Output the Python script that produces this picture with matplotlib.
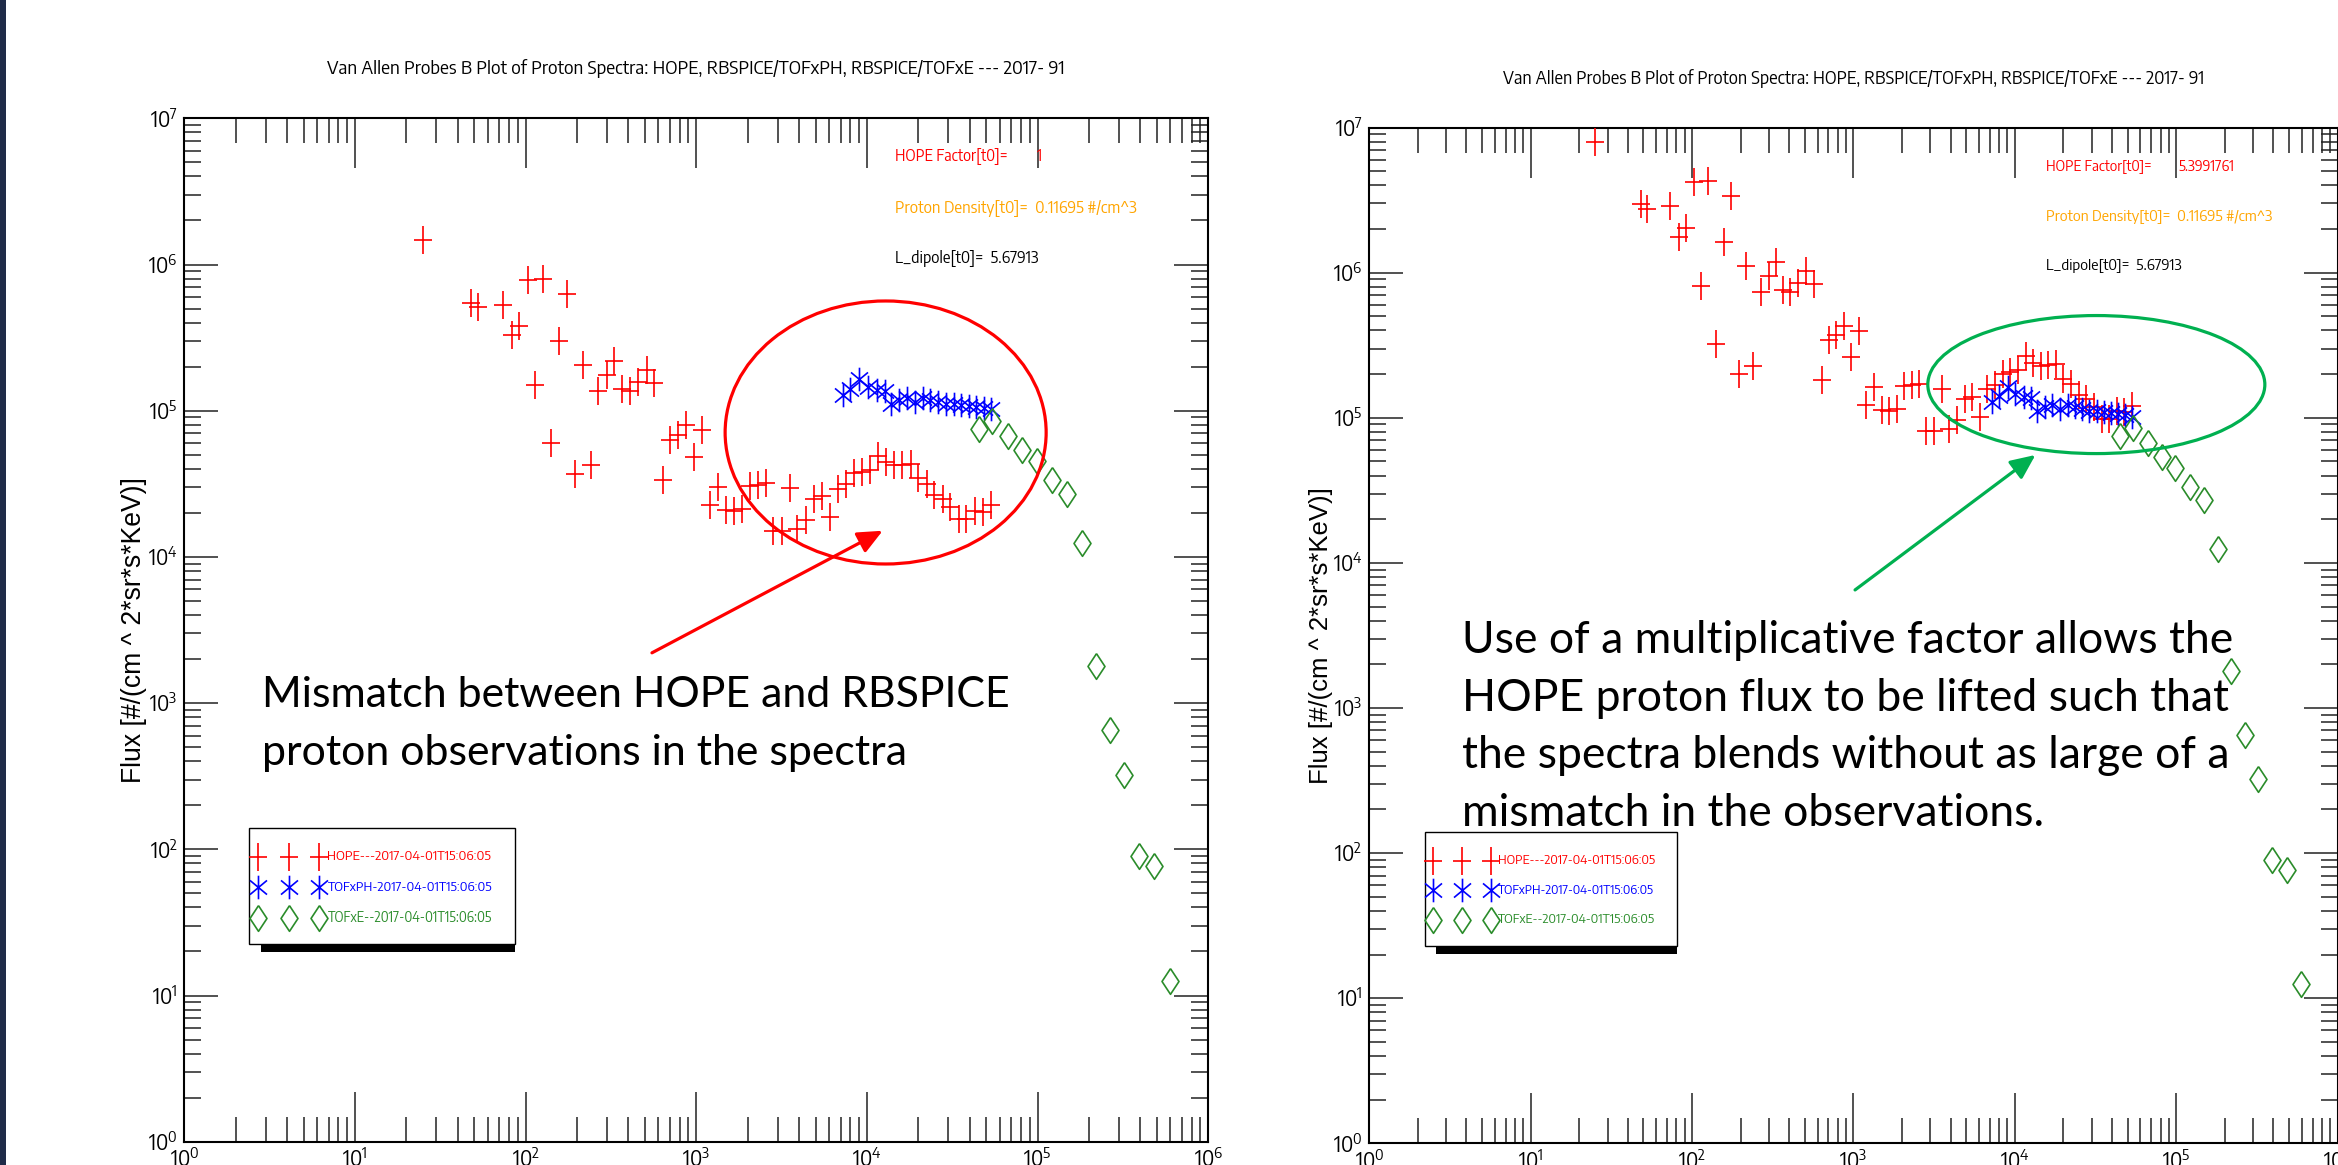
import matplotlib
matplotlib.use("Agg")
import matplotlib.pyplot as plt
import matplotlib.ticker as ticker
from matplotlib import font_manager
from matplotlib.font_manager import FontProperties
from matplotlib.patches import Ellipse, Rectangle, FancyArrowPatch
from matplotlib.path import Path
from matplotlib.textpath import TextToPath

_TTP = TextToPath()
_SAMPLE = "HOPE Factor[t0]= 2017"


def _width_ratio(prop):
    w, _, _ = _TTP.get_text_width_height_descent(_SAMPLE, prop, ismath=False)
    _, hh, _ = _TTP.get_text_width_height_descent("H", prop, ismath=False)
    return w / max(hh, 1e-6)


def _pick_narrow():
    """A regular sans face about as narrow as Arial Narrow (the IDL plot font)."""
    base = FontProperties(family="Liberation Sans")
    target = 0.84 * _width_ratio(base)
    best, best_err = base, None
    skip = ("mono", "cjk", "serif", "stix", "math", "symbol", "emoji", "display")
    for f in font_manager.fontManager.ttflist:
        tag = (f.name + " " + f.fname).lower()
        if any(s in tag for s in skip) or not any(k in tag for k in ("sans", "roboto", "lato", "inter")):
            continue
        if f.style != "normal" or f.weight not in (400, "normal", "regular", "book"):
            continue
        prop = FontProperties(fname=f.fname)
        try:
            err = abs(_width_ratio(prop) - target)
        except Exception:
            continue
        if best_err is None or err < best_err:
            best, best_err = prop, err
    return best


def size_for_height(prop, sample, px):
    """Font size (pt) that gives `sample` an ink height of px pixels at 100 dpi."""
    p = prop.copy()
    p.set_size(100)
    _, h, _ = _TTP.get_text_width_height_descent(sample, p, ismath=False)
    return (px * 72 / 100) * 100 / max(h, 1e-6)


NARROW = _pick_narrow()
_installed = {f.name for f in font_manager.fontManager.ttflist}
SLIDE_FONT = "Lato" if "Lato" in _installed else "DejaVu Sans"
TICK_SIZE = size_for_height(NARROW, "10", 16)

# ---------------------------------------------------------------------------
# Data (energy in eV, flux in #/(cm^2*sr*s*keV))
# ---------------------------------------------------------------------------
HOPE_E = [25.1, 48.1, 52.7, 73.3, 83.0, 91.2, 103, 126, 113, 157, 175, 141, 195,
          217, 240, 267, 299, 331, 367, 407, 456, 512, 566, 635, 705, 780, 875,
          971, 1086, 1205, 1349, 1496, 1660, 1858, 2061, 2307, 2559, 2831, 3162,
          3524, 3908, 4375, 4909, 5433, 6095, 6761, 7568, 8395, 9397, 10420,
          11670, 12940, 14490, 16070, 18030, 19950, 22390, 24830, 27800, 30830,
          34510, 38280, 42850, 47530, 53210]
HOPE_FLUX = [1.48e6, 5.48e5, 5.09e5, 5.31e5, 3.27e5, 3.79e5, 7.85e5, 7.96e5,
             1.50e5, 3.00e5, 6.25e5, 6.01e4, 3.69e4, 2.05e5, 4.24e4, 1.37e5,
             1.75e5, 2.18e5, 1.41e5, 1.36e5, 1.57e5, 1.89e5, 1.54e5, 3.37e4,
             6.35e4, 6.87e4, 7.93e4, 4.84e4, 7.38e4, 2.28e4, 3.03e4, 2.08e4,
             2.05e4, 2.12e4, 3.05e4, 3.12e4, 3.18e4, 1.50e4, 1.50e4, 2.94e4,
             1.54e4, 1.80e4, 2.48e4, 2.59e4, 1.87e4, 2.92e4, 3.14e4, 3.72e4,
             3.81e4, 3.93e4, 4.93e4, 4.45e4, 4.24e4, 4.27e4, 4.35e4, 3.44e4,
             3.16e4, 2.67e4, 2.49e4, 2.19e4, 1.82e4, 1.82e4, 2.05e4, 2.04e4,
             2.25e4]

TOFXPH_E = [7194, 7962, 9016, 10090, 11430, 12680, 13770, 15420, 17100, 19140,
            21230, 23550, 26120, 28970, 32140, 35650, 39450, 43750, 48530, 53210]
TOFXPH_FLUX = [1.29e5, 1.41e5, 1.64e5, 1.46e5, 1.39e5, 1.37e5, 1.11e5, 1.18e5,
               1.22e5, 1.15e5, 1.22e5, 1.18e5, 1.15e5, 1.11e5, 1.11e5, 1.09e5,
               1.08e5, 1.06e5, 1.05e5, 1.02e5]

TOFXE_E = [45190, 54330, 66830, 81280, 99080, 121600, 147900, 182000, 218300,
           265500, 322800, 392600, 483100, 595700]
TOFXE_FLUX = [7.53e4, 8.49e4, 6.68e4, 5.41e4, 4.52e4, 3.34e4, 2.71e4, 1.24e4,
              1.80e3, 650, 324, 89.7, 76.6, 12.5]

HOPE_FACTORS = [1.0, 5.3991761]
FACTOR_LABELS = ["1", "5.3991761"]
PROTON_DENSITY = "0.11695"
L_DIPOLE = "5.67913"
STAMP = "2017-04-01T15:06:05"
SERIES_LABELS = ["HOPE---" + STAMP, "TOFxPH-" + STAMP, "TOFxE--" + STAMP]

TITLE = ("Van Allen Probes B Plot of Proton Spectra: HOPE, RBSPICE/TOFxPH, "
         "RBSPICE/TOFxE --- 2017- 91")
YLABEL = "Flux [#/(cm ^ 2*sr*s*KeV)]"

NOTES = [
    ["Mismatch between HOPE and RBSPICE",
     "proton observations in the spectra"],
    ["Use of a multiplicative factor allows the",
     "HOPE proton flux to be lifted such that",
     "the spectra blends without as large of a",
     "mismatch in the observations."],
]

# ---------------------------------------------------------------------------
# Styling
# ---------------------------------------------------------------------------
RED, BLUE, GREEN, ORANGE = "#ff0000", "#0000ff", "#2a8c2a", "#ffa500"
OFFICE_GREEN = "#00b050"

_M, _L = Path.MOVETO, Path.LINETO
PLUS = Path([(-0.33, 0), (0.33, 0), (0, -0.5), (0, 0.5)], [_M, _L, _M, _L])
STAR = Path([(0, -0.5), (0, 0.5), (-0.36, -0.3), (0.36, 0.3), (-0.36, 0.3), (0.36, -0.3)],
            [_M, _L, _M, _L, _M, _L])
DIAMOND = Path([(0, 0.5), (0.33, 0), (0, -0.5), (-0.33, 0), (0, 0.5)],
               [_M, _L, _L, _L, _L])

SERIES_STYLE = [
    dict(marker=PLUS, color=RED, markersize=19.5),
    dict(marker=STAR, color=BLUE, markersize=17),
    dict(marker=DIAMOND, color=GREEN, markersize=18.5),
]

# per-panel layout (figure / axes fractions) and target text widths in pixels
PANELS = [
    dict(rect=(0.07883, 0.0200, 0.43798, 0.87845),
         ellipse=((0.6849, 0.6930), 0.3135, 0.2570), ring=RED,
         arrow=((0.4567, 0.4777), (0.682, 0.597)),
         note_x=0.0763, note_y=[0.4248, 0.3684], note_w=748,
         leg_box=(0.0636, 0.1934, 0.3229, 0.3065),
         leg_mx=[0.0720, 0.1018, 0.1316], leg_tx=0.1398, leg_y=[0.2782, 0.2484, 0.2189],
         leg_w=164,
         info_x=0.694, val_x=0.833, info_y=[0.9622, 0.9120, 0.8632],
         info_w=[113, 243, 144],
         ylab_x=-0.0491, ylab_w=305, title_w=736),
    dict(rect=(0.58567, 0.01863, 0.41412, 0.87185),
         ellipse=((0.7509, 0.7470), 0.3481, 0.1359), ring=OFFICE_GREEN,
         arrow=((0.5017, 0.5448), (0.6880, 0.6777)),
         note_x=0.0954, note_y=[0.4829, 0.4260, 0.3691, 0.3121], note_w=767,
         leg_box=(0.0575, 0.1943, 0.3178, 0.3065),
         leg_mx=[0.0653, 0.0954, 0.1255], leg_tx=0.1333, leg_y=[0.2783, 0.2490, 0.2203],
         leg_w=157,
         info_x=0.6989, val_x=0.8354, info_y=[0.9612, 0.9124, 0.8638],
         info_w=[106, 228, 136],
         ylab_x=-0.0500, ylab_w=296, title_w=699),
]


def fit(fig, txt, target_px, vertical=False):
    """Scale a text's font size so that it spans target_px pixels."""
    bb = txt.get_window_extent(fig.canvas.get_renderer())
    cur = bb.height if vertical else bb.width
    txt.set_fontsize(txt.get_fontsize() * target_px / cur)
    return txt.get_fontsize()


def draw_panel(fig, lay, factor, factor_label, notes):
    ax = fig.add_axes(lay["rect"])
    ax.set_xscale("log")
    ax.set_yscale("log")
    ax.set_xlim(1, 1e6)
    ax.set_ylim(1, 1e7)

    hope = [f * factor for f in HOPE_FLUX]
    series = [(HOPE_E, hope), (TOFXPH_E, TOFXPH_FLUX), (TOFXE_E, TOFXE_FLUX)]
    for (xs, ys), st in zip(series, SERIES_STYLE):
        ax.plot(xs, ys, linestyle="none", marker=st["marker"], markersize=st["markersize"],
                markerfacecolor="none", markeredgecolor=st["color"], markeredgewidth=1.2,
                zorder=3)

    # IDL-like ticks: inward on all four sides
    for axis in (ax.xaxis, ax.yaxis):
        axis.set_major_locator(ticker.LogLocator(base=10, numticks=12))
        axis.set_minor_locator(ticker.LogLocator(base=10, subs=range(2, 10), numticks=12))
        axis.set_minor_formatter(ticker.NullFormatter())
    ax.tick_params(which="both", direction="in", top=True, right=True,
                   width=1.1, color="#222222", pad=5)
    ax.tick_params(axis="x", which="major", length=36)
    ax.tick_params(axis="x", which="minor", length=18)
    ax.tick_params(axis="y", which="major", length=24.5)
    ax.tick_params(axis="y", which="minor", length=12)
    for lab in ax.get_xticklabels() + ax.get_yticklabels():
        lab.set_fontproperties(NARROW)
        lab.set_fontsize(TICK_SIZE)
    for sp in ax.spines.values():
        sp.set_linewidth(1.5)

    t = ax.text(0.5, 1.0482, TITLE, transform=ax.transAxes, ha="center", va="center",
                fontproperties=NARROW, fontsize=13.5)
    fit(fig, t, lay["title_w"])
    t = ax.text(lay["ylab_x"], 0.5, YLABEL, transform=ax.transAxes, rotation=90,
                ha="center", va="center", fontsize=16.5, family="Liberation Sans")
    fit(fig, t, lay["ylab_w"], vertical=True)

    # info block top-right
    iy, iw = lay["info_y"], lay["info_w"]
    t = ax.text(lay["info_x"], iy[0], "HOPE Factor[t0]=", transform=ax.transAxes,
                color=RED, fontproperties=NARROW, fontsize=12.5, va="center")
    size = fit(fig, t, iw[0])
    ax.text(lay["val_x"], iy[0], factor_label, transform=ax.transAxes,
            color=RED, fontproperties=NARROW, fontsize=size, va="center")
    t = ax.text(lay["info_x"], iy[1], f"Proton Density[t0]=  {PROTON_DENSITY} #/cm^3",
                transform=ax.transAxes, color=ORANGE, fontproperties=NARROW,
                fontsize=12.5, va="center")
    fit(fig, t, iw[1])
    t = ax.text(lay["info_x"], iy[2], f"L_dipole[t0]=  {L_DIPOLE}",
                transform=ax.transAxes, color="black", fontproperties=NARROW,
                fontsize=12.5, va="center")
    fit(fig, t, iw[2])

    # legend box with drop shadow
    x0, y0, x1, y1 = lay["leg_box"]
    ax.add_patch(Rectangle((x0 + 0.0117, y0 - 0.0078), x1 - x0 - 0.0117, 0.0078,
                           transform=ax.transAxes, facecolor="black", edgecolor="none",
                           clip_on=False, zorder=4))
    ax.add_patch(Rectangle((x0, y0), x1 - x0, y1 - y0, transform=ax.transAxes,
                           facecolor="white", edgecolor="black", linewidth=1.0,
                           clip_on=False, zorder=5))
    for st, label, ly in zip(SERIES_STYLE, SERIES_LABELS, lay["leg_y"]):
        ax.plot(lay["leg_mx"], [ly] * 3, transform=ax.transAxes, linestyle="none",
                marker=st["marker"], markersize=st["markersize"], markerfacecolor="none",
                markeredgecolor=st["color"], markeredgewidth=1.2, clip_on=False, zorder=6)
        t = ax.text(lay["leg_tx"], ly, label, transform=ax.transAxes, color=st["color"],
                    fontproperties=NARROW, fontsize=10.3, va="center", ha="left", zorder=6)
        fit(fig, t, lay["leg_w"])

    # slide annotations: ring, arrow, note
    (cx, cy), ew, eh = lay["ellipse"]
    ax.add_patch(Ellipse((cx, cy), ew, eh, transform=ax.transAxes, fill=False,
                         edgecolor=lay["ring"], linewidth=2.3, clip_on=False, zorder=7))
    (ax0, ay0), (ax1, ay1) = lay["arrow"]
    ax.add_patch(FancyArrowPatch((ax0, ay0), (ax1, ay1), transform=ax.transAxes,
                                 arrowstyle="-|>,head_length=1.0,head_width=0.45",
                                 mutation_scale=15, color=lay["ring"], linewidth=2.3,
                                 shrinkA=0, shrinkB=0, clip_on=False, zorder=7))
    texts = []
    for line, ny in zip(notes, lay["note_y"]):
        texts.append(ax.text(lay["note_x"], ny, line, transform=ax.transAxes, ha="left",
                             va="baseline", fontsize=31, family=SLIDE_FONT,
                             color="black", zorder=8))
    size = fit(fig, texts[0], lay["note_w"])
    for t in texts[1:]:
        t.set_fontsize(size)
    return ax


fig = plt.figure(figsize=(23.38, 11.65), dpi=100)
fig.patch.set_facecolor("white")
fig.add_artist(Rectangle((0, 0), 6 / 2338, 1, transform=fig.transFigure,
                         facecolor="#1f2b48", edgecolor="none"))

for lay, factor, flabel, notes in zip(PANELS, HOPE_FACTORS, FACTOR_LABELS, NOTES):
    draw_panel(fig, lay, factor, flabel, notes)

fig.savefig("out.png", dpi=100)
